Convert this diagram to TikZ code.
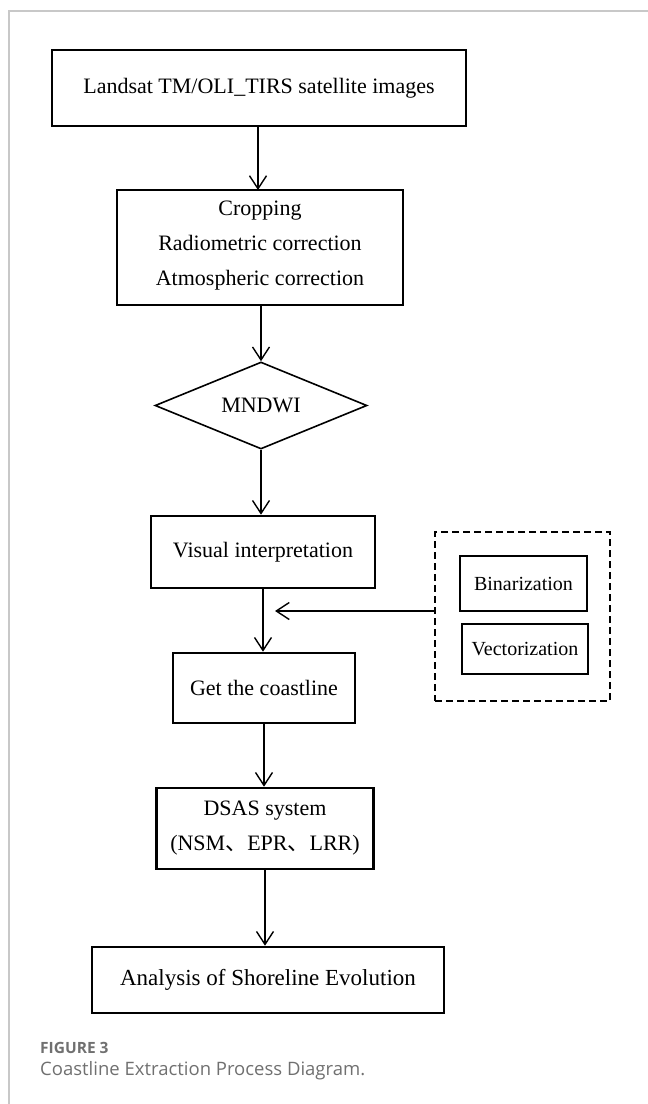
\documentclass[tikz,border=0pt]{standalone}
\usepackage{fontspec}
\setmainfont{Liberation Serif}
\newfontfamily\capfont{Open Sans}
\newfontfamily\cjk{Noto Sans CJK SC}
\usetikzlibrary{arrows.meta,shapes.geometric}
\definecolor{framegray}{HTML}{C8C8C8}
\definecolor{capgray}{HTML}{707070}
\begin{document}
\begin{tikzpicture}[x=1pt,y=-1pt,
  box/.style={draw, line width=2.6pt, inner sep=0pt, align=center,
    font=\fontsize{22}{35}\selectfont},
  smallbox/.style={box, font=\fontsize{20}{24}\selectfont},
  arr/.style={line width=1.4pt, -{Straight Barb[length=13pt,width=17pt]}},
  dashbox/.style={draw, line width=2.4pt, dash pattern=on 7pt off 4pt},
  captxt/.style={anchor=base west, inner sep=0pt, text=capgray}
]
\useasboundingbox (0,0) rectangle (648,1104);
\draw[framegray, line width=1.2pt] (9,1104) -- (9,11) -- (648,11);

\node[box, minimum width=414pt, minimum height=76pt] (b1) at (259,88) {Landsat TM/OLI\_TIRS satellite images};
\node[box, minimum width=286pt, minimum height=115pt] (b2) at (260,247.5) {\begin{tabular}{@{}c@{}}Cropping\\Radiometric correction\\Atmospheric correction\\[8pt]\end{tabular}};
\node[draw, diamond, line width=1.6pt, inner sep=0pt, aspect=2.44, minimum width=212pt, minimum height=87pt,
  font=\fontsize{22}{26}\selectfont] (d) at (261,405.5) {MNDWI};
\node[box, minimum width=224pt, minimum height=72pt] (b3) at (263,552) {Visual interpretation};
\node[box, minimum width=182pt, minimum height=70pt] (b4) at (264,688) {Get the coastline};
\node[box, minimum width=217pt, minimum height=81pt] (b5) at (265,828.5) {DSAS system\\(NSM{\cjk 、}EPR{\cjk 、}LRR)};
\node[box, minimum width=352pt, minimum height=66pt, font=\fontsize{23}{28}\selectfont] (b6) at (268,980) {Analysis of Shoreline Evolution};

\node[dashbox, minimum width=175pt, minimum height=169pt] (g) at (522.5,616.5) {};
\node[smallbox, minimum width=127pt, minimum height=55pt] (bin) at (523.5,583.5) {Binarization};
\node[smallbox, minimum width=126pt, minimum height=50pt] (vec) at (525,649) {Vectorization};

\draw[arr] (b1.south -| 258,0) -- (258,190);
\draw[arr] (b2.south -| 261,0) -- (d.north);
\draw[arr] (d.south) -- (b3.north -| d.south);
\draw[arr] (b3.south) -- (b4.north -| b3.south);
\draw[arr] (b4.south) -- (b5.north -| b4.south);
\draw[arr] (b5.south) -- (b6.north -| b5.south);
\coordinate (tip) at (275,611);
\draw[arr] (tip -| g.west) -- (tip);

\node[captxt, font=\capfont\bfseries\fontsize{15.5}{18}\selectfont] (fig) at (40,1053) {FIGURE 3};
\node[captxt, font=\capfont\fontsize{18.5}{22}\selectfont] (cap) at (40,1075) {Coastline Extraction Process Diagram.};
\end{tikzpicture}
\end{document}
